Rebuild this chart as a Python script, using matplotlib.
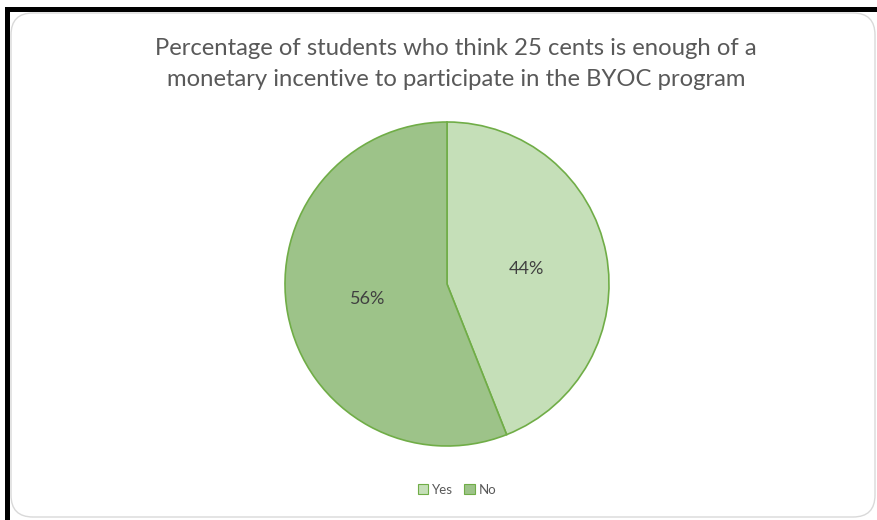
import matplotlib.pyplot as plt
from matplotlib.patches import FancyBboxPatch, Rectangle

labels = ['Yes', 'No']
shares = [44, 56]
colors = ['#c5dfb8', '#9dc389']
edge = '#70ad47'

plt.rcParams['font.family'] = ['Lato', 'DejaVu Sans']

fig = plt.figure(figsize=(8.78, 5.2), dpi=100)
W, H = 878, 520

# black screenshot frame (top and left edges)
fig.patches.append(Rectangle((5 / W, 0), 5 / W, 1 - 7 / H, transform=fig.transFigure,
                             color='black', lw=0, zorder=-2))
fig.patches.append(Rectangle((5 / W, 1 - 12 / H), 1, 5 / H, transform=fig.transFigure,
                             color='black', lw=0, zorder=-2))
# rounded chart area border
fig.patches.append(FancyBboxPatch((11 / W, 3 / H), (W - 14) / W, (H - 16) / H,
                                  boxstyle='round,pad=0,rounding_size=0.025',
                                  transform=fig.transFigure, facecolor='white',
                                  edgecolor='#d9d9d9', lw=1.0, mutation_aspect=W / H,
                                  zorder=-1))

fig.text(456 / W, 1 - 64 / H,
         'Percentage of students who think 25 cents is enough of a\n'
         'monetary incentive to participate in the BYOC program',
         ha='center', va='center', fontsize=17.2, color='#595959', linespacing=1.55)

cx, cy, r = 447, 284, 162
ax = fig.add_axes([(cx - r) / W, (H - cy - r) / H, 2 * r / W, 2 * r / H])
wedges, texts, autotexts = ax.pie(
    shares, colors=colors, startangle=90, counterclock=False,
    autopct='%d%%', pctdistance=0.5,
    wedgeprops=dict(edgecolor=edge, linewidth=1.2),
    textprops=dict(fontsize=13, color='#404040'))
ax.set_xlim(-1, 1)
ax.set_ylim(-1, 1)
ax.axis('off')

handles = [Rectangle((0, 0), 1, 1, facecolor=c, edgecolor=edge, lw=0.8) for c in colors]
fig.legend(handles, labels, loc='center', bbox_to_anchor=(457 / W, 1 - 490 / H),
           ncol=2, frameon=False, fontsize=9.5, handlelength=0.8, handleheight=0.8,
           handletextpad=0.3, columnspacing=0.8, labelcolor='#595959')

fig.savefig('out.png', dpi=100)
